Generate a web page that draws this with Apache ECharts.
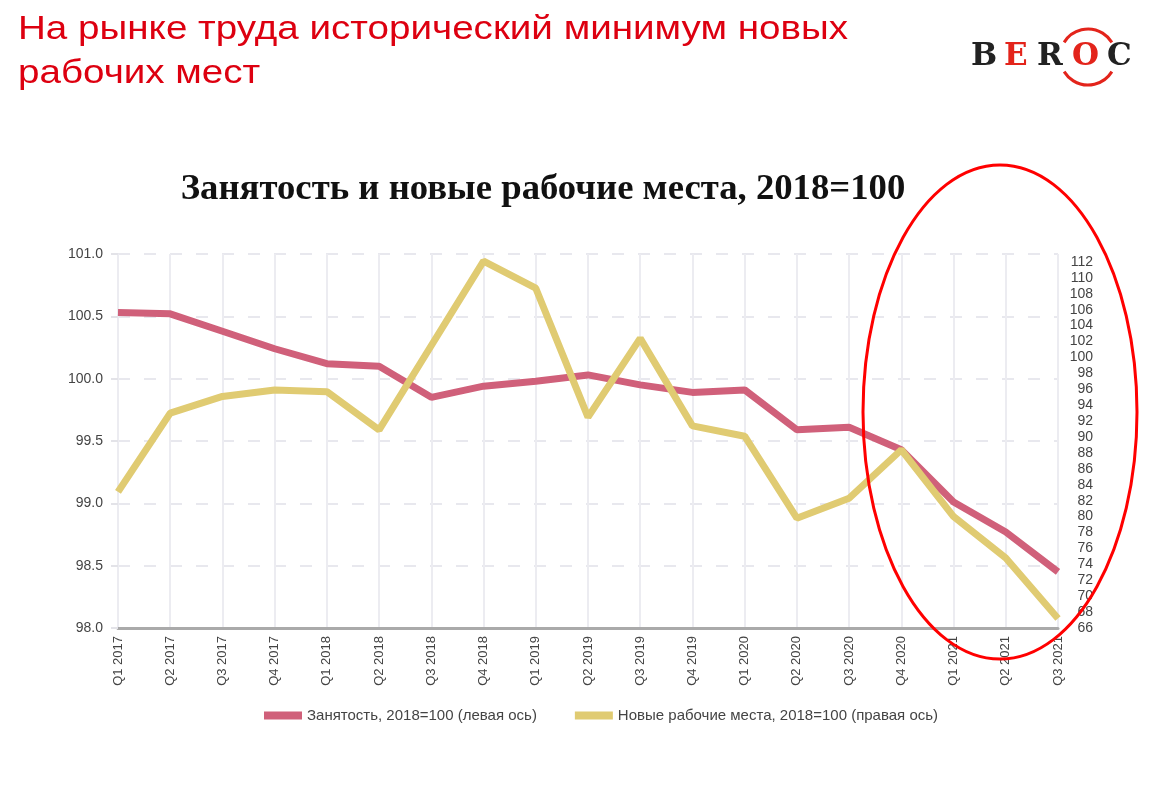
<!DOCTYPE html>
<html><head><meta charset="utf-8">
<script src="https://cdn.jsdelivr.net/npm/echarts@6/dist/echarts.min.js"></script>
<style>html,body{margin:0;padding:0;background:#fff}#c{width:1159px;height:797px}</style>
</head><body><div id="c"></div>
<script>
const categories = ['Q1 2017','Q2 2017','Q3 2017','Q4 2017','Q1 2018','Q2 2018','Q3 2018','Q4 2018','Q1 2019','Q2 2019','Q3 2019','Q4 2019','Q1 2020','Q2 2020','Q3 2020','Q4 2020','Q1 2021','Q2 2021','Q3 2021'];
const employment = [100.53,100.52,100.38,100.24,100.12,100.10,99.85,99.94,99.98,100.03,99.95,99.89,99.91,99.59,99.61,99.43,99.01,98.77,98.45];
const newJobs = [83.1,93.0,95.1,95.9,95.7,90.9,101.5,112.1,108.7,92.5,102.4,91.4,90.1,79.8,82.3,88.4,80.0,74.8,67.2];
const seriesNames = ['Занятость, 2018=100 (левая ось)','Новые рабочие места, 2018=100 (правая ось)'];
const slideTitle = 'На рынке труда исторический минимум новых\nрабочих мест';
const chartTitle = 'Занятость и новые рабочие места, 2018=100';

const chart = echarts.init(document.getElementById('c'), null, {renderer:'canvas'});
const RED = '#d0607a', YEL = '#e0cb72';
chart.setOption({
  animation:false,
  backgroundColor:'#fff',
  grid:{left:118,right:101,top:254,bottom:169},
  legend:{
    left:259, top:703, itemWidth:38, itemHeight:8, itemGap:38, icon:'rect',
    textStyle:{fontFamily:'Liberation Sans',fontSize:15,color:'#444'},
    data:seriesNames
  },
  xAxis:{
    type:'category', data:categories, boundaryGap:false,
    axisLine:{lineStyle:{color:'#aaaaaa',width:3}},
    axisTick:{show:false},
    axisLabel:{rotate:90,fontFamily:'Liberation Sans',fontSize:13,color:'#444',margin:8},
    splitLine:{show:true,lineStyle:{color:'#ececf1',width:2}}
  },
  yAxis:[{
    type:'value', min:98, max:101, interval:0.5,
    axisLine:{show:false},
    axisTick:{show:true,length:7,lineStyle:{color:'#e3e3e8',width:2}},
    axisLabel:{fontFamily:'Liberation Sans',fontSize:14,color:'#444',margin:15,formatter:v=>v.toFixed(1)},
    splitLine:{show:true,lineStyle:{color:'#e8e8ee',width:2,type:[12,14]}}
  },{
    type:'value', min:66, max:113, interval:2,
    axisLine:{show:false}, axisTick:{show:false}, splitLine:{show:false},
    axisLabel:{fontFamily:'Liberation Sans',fontSize:14,color:'#444',align:'right',margin:35,showMaxLabel:false,
      formatter:v=>(v>112?'':String(v))}
  }],
  series:[
    {name:seriesNames[0],type:'line',yAxisIndex:0,data:employment,symbol:'none',
     lineStyle:{color:RED,width:7},itemStyle:{color:RED},z:2},
    {name:seriesNames[1],type:'line',yAxisIndex:1,data:newJobs,symbol:'none',
     lineStyle:{color:YEL,width:7},itemStyle:{color:YEL},z:3}
  ],
  graphic:[
    {type:'text',x:18,y:8,scaleX:1.135,style:{text:slideTitle,fill:'#dd0010',font:'34px "Liberation Sans"',lineHeight:44,textVerticalAlign:'top'}},
    {type:'text',x:543,y:190,scaleX:1.02,style:{text:chartTitle,fill:'#111',font:'bold 36px "Liberation Serif"',textAlign:'center',textVerticalAlign:'middle'}},
    {type:'text',x:971,y:57,style:{text:'B',fill:'#222',font:'bold 31px "DejaVu Serif"',textVerticalAlign:'middle'}},
    {type:'text',x:1004,y:57,style:{text:'E',fill:'#e3241b',font:'bold 31px "DejaVu Serif"',textVerticalAlign:'middle'}},
    {type:'text',x:1037,y:57,style:{text:'R',fill:'#222',font:'bold 31px "DejaVu Serif"',textVerticalAlign:'middle'}},
    {type:'text',x:1072,y:57,style:{text:'O',fill:'#e3241b',font:'bold 31px "DejaVu Serif"',textVerticalAlign:'middle'}},
    {type:'text',x:1107,y:57,style:{text:'C',fill:'#222',font:'bold 31px "DejaVu Serif"',textVerticalAlign:'middle'}},
    {type:'arc',shape:{cx:1088,cy:57,r:28,startAngle:Math.PI+0.55,endAngle:2*Math.PI-0.55,clockwise:true},style:{stroke:'#e3241b',lineWidth:3,fill:null}},
    {type:'arc',shape:{cx:1088,cy:57,r:28,startAngle:0.55,endAngle:Math.PI-0.55,clockwise:true},style:{stroke:'#e3241b',lineWidth:3,fill:null}},
    {type:'ellipse',shape:{cx:1000,cy:412,rx:137,ry:247},style:{stroke:'#ff0000',lineWidth:3,fill:null},z:10}
  ]
});
</script></body></html>
